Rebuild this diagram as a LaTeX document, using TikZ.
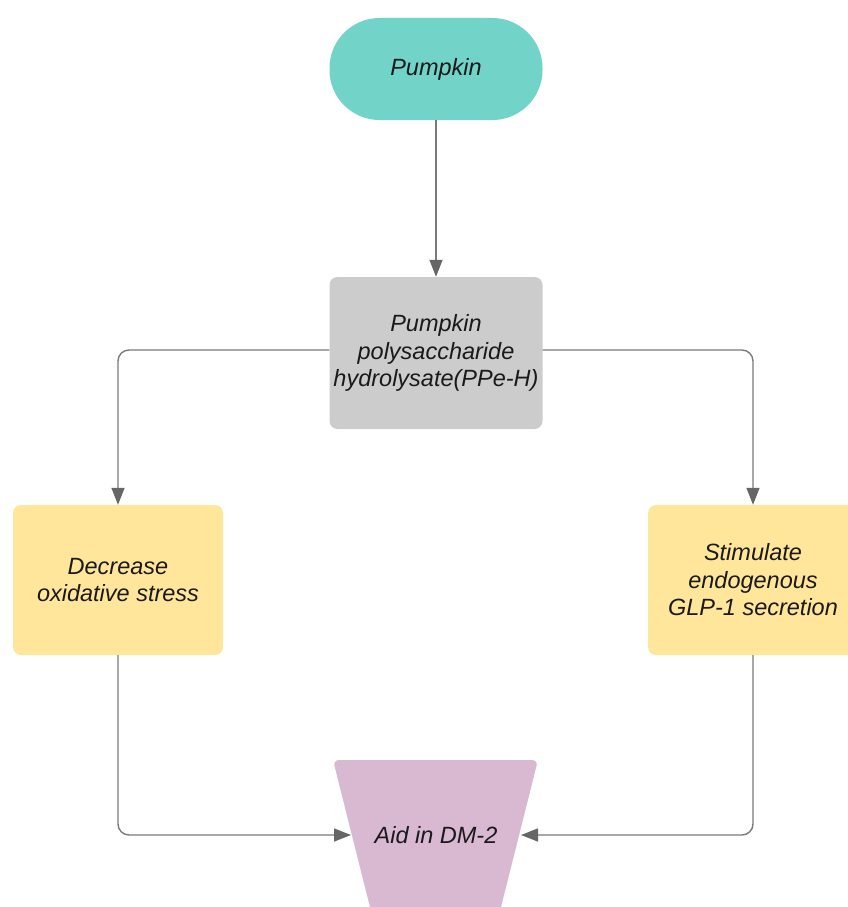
\documentclass[tikz,border=0pt]{standalone}
\usepackage{fontspec}
\setmainfont{Liberation Sans}
\usetikzlibrary{arrows.meta}
\definecolor{tealc}{HTML}{72D3C8}
\definecolor{grayc}{HTML}{CCCCCC}
\definecolor{yellowc}{HTML}{FFE69B}
\definecolor{purplec}{HTML}{D9B8D2}
\definecolor{linec}{HTML}{7A7A7A}
\definecolor{tipc}{HTML}{666666}
\definecolor{txtc}{HTML}{1A1A1A}
\begin{document}
\begin{tikzpicture}[x=1pt,y=-1pt,
  box/.style={rounded corners=8pt, inner sep=0pt, align=center,
    font=\fontsize{23.5}{27.5}\selectfont\itshape, text=txtc},
  conn/.style={draw=linec, line width=1.4pt, rounded corners=11pt,
    -{Triangle[length=17pt,width=13pt,color=tipc]}}]
\useasboundingbox (0,0) rectangle (847,907);
% trapezoid shape
\fill[purplec, rounded corners=6pt] (333,760) -- (538,760) -- (487.7,960) -- (383.3,960) -- cycle;
\node[box, fill=tealc, rounded corners=50pt, minimum width=213pt, minimum height=102pt] (pump) at (436,69) {Pumpkin};
\node[box, fill=grayc, minimum width=213pt, minimum height=152pt] (ppe) at (436,353) {Pumpkin\\polysaccharide\\hydrolysate(PPe-H)};
\node[box, fill=yellowc, minimum width=210pt, minimum height=150pt] (dec) at (118,580) {Decrease\\oxidative stress};
\node[box, fill=yellowc, minimum width=210pt, minimum height=150pt] (glp) at (753,580) {Stimulate\\endogenous\\GLP-1 secretion};
\node[box] (aid) at (436,835) {Aid in DM-2};
\coordinate (aidL) at (351,835);
\coordinate (aidR) at (521,835);
\draw[conn] (pump.south) -- (ppe.north);
\draw[conn] ([yshift=3pt]ppe.west) -| (dec.north);
\draw[conn] ([yshift=3pt]ppe.east) -| (glp.north);
\draw[conn] (dec.south) |- (aidL);
\draw[conn] (glp.south) |- (aidR);
\end{tikzpicture}
\end{document}
